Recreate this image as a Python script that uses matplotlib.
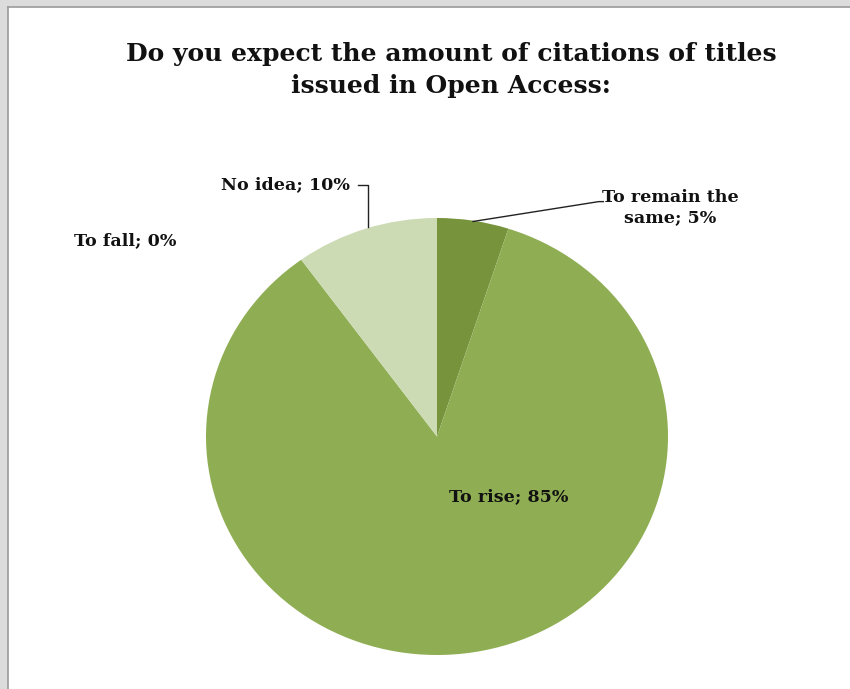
import matplotlib.pyplot as plt
from matplotlib.patches import Rectangle

# data
labels = ["To remain the\nsame", "To rise", "To fall", "No idea"]
values = [5, 85, 0, 10]
colors = ["#77933C", "#8FAD52", "#8FAD52", "#CCDBB4"]

W, H = 850, 689
fig = plt.figure(figsize=(W / 100, H / 100), dpi=100)
fig.patch.set_facecolor("white")

# window-like grey frame on top and left
fig.patches.append(Rectangle((0, 1 - 7 / H), 1, 7 / H, transform=fig.transFigure,
                             facecolor="#DCDCDC", edgecolor="none", zorder=0))
fig.patches.append(Rectangle((0, 0), 8 / W, 1, transform=fig.transFigure,
                             facecolor="#DCDCDC", edgecolor="none", zorder=0))
fig.add_artist(plt.Line2D([8 / W, 1], [1 - 7 / H, 1 - 7 / H], transform=fig.transFigure,
                          color="#9A9A9A", lw=1.2))
fig.add_artist(plt.Line2D([8 / W, 8 / W], [0, 1 - 7 / H], transform=fig.transFigure,
                          color="#9A9A9A", lw=1.2))

# pie is slightly stretched horizontally in the original
ax = fig.add_axes([206 / W, 1 - 655 / H, 462 / W, 437 / H])
ax.pie(values, colors=colors, startangle=90, counterclock=False,
       wedgeprops=dict(linewidth=0))
ax.set_aspect("auto")
ax.set_xlim(-1, 1)
ax.set_ylim(-1, 1)
ax.axis("off")

font = dict(family="DejaVu Serif", fontweight="bold", fontsize=12.6, color="#111111")

def lab(i):
    return "{}; {}%".format(labels[i], values[i])

ax.text(1.009, 1.046, lab(0), ha="center", va="center", clip_on=False,
        linespacing=1.25, **font)
ax.plot([0.156, 0.70, 0.72], [0.984, 1.075, 1.075], color="#222222", lw=1, clip_on=False)

ax.text(0.312, -0.275, lab(1), ha="center", va="center", **font)

ax.text(-1.351, 0.897, lab(2), ha="center", va="center", clip_on=False, **font)

ax.text(-0.657, 1.153, lab(3), ha="center", va="center", clip_on=False, **font)
ax.plot([-0.34, -0.299, -0.299], [1.153, 1.153, 0.957], color="#222222", lw=1, clip_on=False)

fig.text(451 / W, 1 - 70 / H, "Do you expect the amount of citations of titles\nissued in Open Access:",
         ha="center", va="center", family="DejaVu Serif", fontweight="bold",
         fontsize=18, linespacing=1.45, color="#111111")

fig.savefig("out.png", dpi=100)
